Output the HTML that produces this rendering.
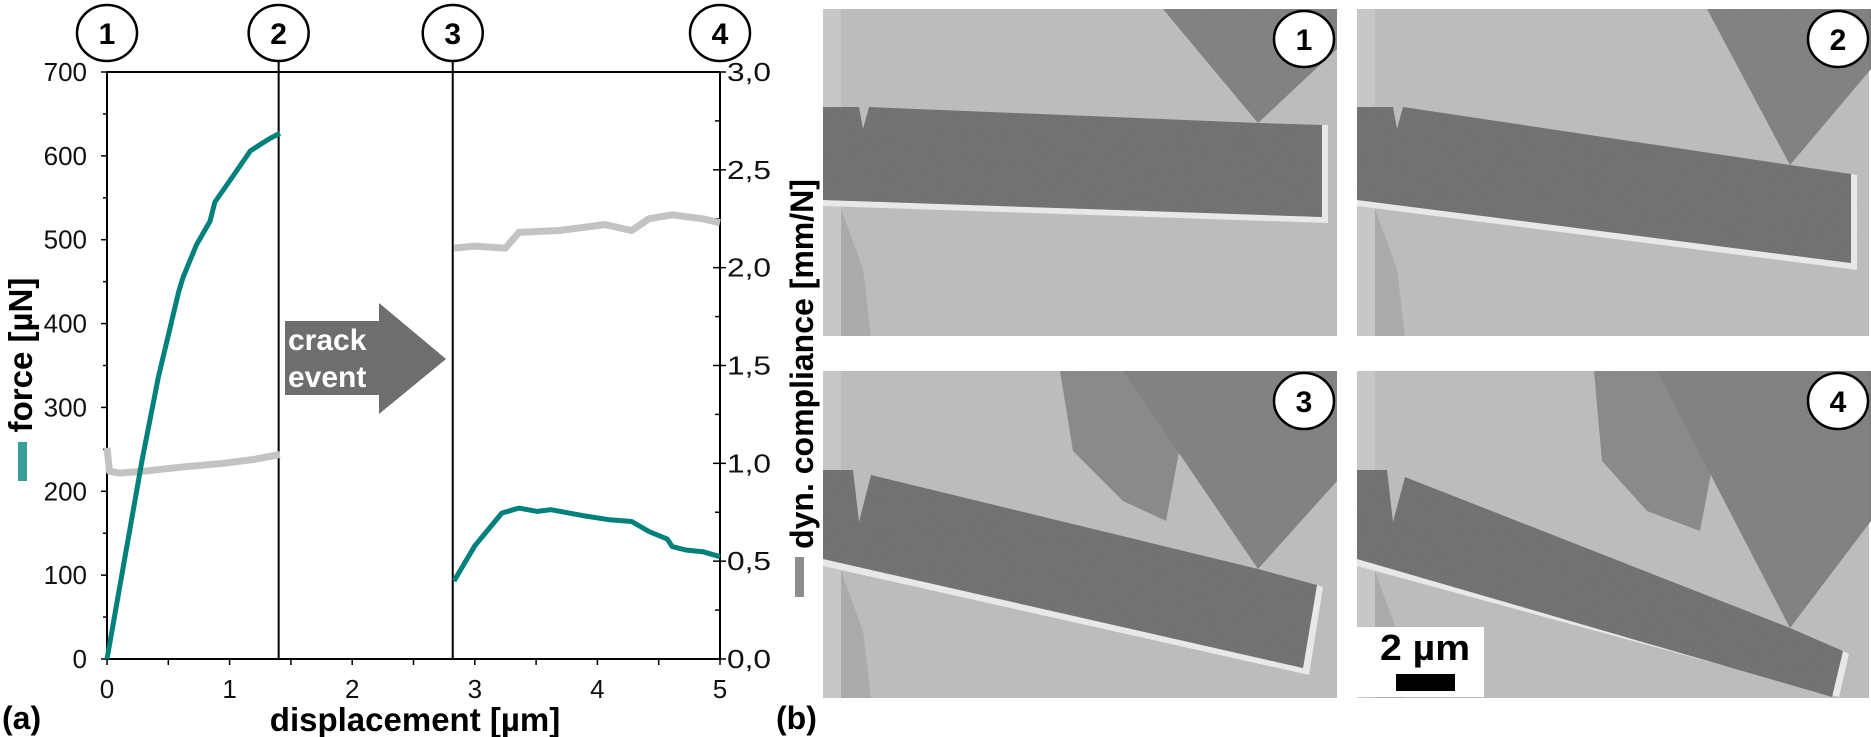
<!DOCTYPE html>
<html><head><meta charset="utf-8"><style>
html,body{margin:0;padding:0;background:#fff;}
svg{display:block;font-family:"Liberation Sans",sans-serif;}
</style></head><body>
<svg id="fig" width="1871" height="737" viewBox="0 0 1871 737">
<defs>
<filter id="noise" x="0" y="0" width="100%" height="100%"><feTurbulence type="fractalNoise" baseFrequency="0.9" numOctaves="1" seed="3"/><feColorMatrix type="matrix" values="0 0 0 0 0.5  0 0 0 0 0.5  0 0 0 0 0.5  0 0 0 0.18 0"/><feComposite in2="SourceGraphic" operator="in"/></filter>
</defs>
<g id="chart"></g>
<g id="panels"></g>
</svg>
<script>
// ---- chart data ----
const forceX1 = [0, 0.285, 0.42, 0.585, 0.62, 0.73, 0.84, 0.88, 1.0, 1.17, 1.32, 1.41];
const forceY1 = [0, 236, 337, 438, 455, 494, 522, 545, 570, 606, 620, 627];
const forceX2 = [2.83, 3.0, 3.22, 3.36, 3.51, 3.62, 3.88, 4.1, 4.28, 4.42, 4.57, 4.61, 4.72, 4.86, 5.0];
const forceY2 = [93, 135, 174, 180, 176, 178, 171, 166, 164, 152, 143, 134, 130, 128, 122];
const compX1 = [0, 0.02, 0.1, 0.3, 0.6, 0.95, 1.2, 1.41];
const compY1 = [1.08, 0.96, 0.95, 0.96, 0.98, 1.0, 1.02, 1.045];
const compX2 = [2.83, 3.0, 3.25, 3.36, 3.69, 4.06, 4.28, 4.42, 4.61, 4.86, 5.0];
const compY2 = [2.10, 2.11, 2.10, 2.18, 2.19, 2.22, 2.19, 2.25, 2.27, 2.25, 2.23];
const xTicks = [0, 1, 2, 3, 4, 5];
const yTicks = [0, 100, 200, 300, 400, 500, 600, 700];
const y2Ticks = ["0,0","0,5","1,0","1,5","2,0","2,5","3,0"];
const markerX = [0, 1.4, 2.82, 5];
const markerLabels = ["1","2","3","4"];

const NS = "http://www.w3.org/2000/svg";
const X0 = 107, XS = 122.6, Y0 = 659, YS = 587 / 700, Y2S = 587 / 3;
const sx = v => X0 + v * XS;
const sy = v => Y0 - v * YS;
const sy2 = v => Y0 - v * Y2S;
function mk(parent, tag, attrs, text) {
  const e = document.createElementNS(NS, tag);
  for (const k in attrs) e.setAttribute(k, attrs[k]);
  if (text !== undefined) e.textContent = text;
  parent.appendChild(e);
  return e;
}
const chart = document.getElementById('chart');

let e;
e = mk(chart, 'line', {x1: X0, y1: 72, x2: sx(5), y2: 72, stroke: '#000', 'stroke-width': 2});


e = mk(chart, 'line', {x1: X0, y1: 72, x2: X0, y2: Y0, stroke: '#000', 'stroke-width': 2});


e = mk(chart, 'line', {x1: sx(5), y1: 72, x2: sx(5), y2: Y0, stroke: '#000', 'stroke-width': 2});


e = mk(chart, 'line', {x1: X0, y1: Y0, x2: sx(5), y2: Y0, stroke: '#000', 'stroke-width': 2});



for (let v = 0; v <= 700; v += 50) {
  const major = v % 100 === 0;
  e = mk(chart, 'line', {x1: X0 - (major ? 6 : 4), y1: sy(v), x2: X0, y2: sy(v), stroke: '#000', 'stroke-width': 1.5});
  
  
}
yTicks.forEach(v => {
  e = mk(chart, 'text', {x: 87, y: sy(v) + 9, 'text-anchor': 'end', 'font-size': 26, fill: '#111'}, String(v));
  
  
});
for (let v = 0; v <= 5; v += 0.5) {
  e = mk(chart, 'line', {x1: sx(v), y1: Y0, x2: sx(v), y2: Y0 + 6, stroke: '#000', 'stroke-width': 1.5});
  
  
}
xTicks.forEach(v => {
  e = mk(chart, 'text', {x: sx(v), y: 698, 'text-anchor': 'middle', 'font-size': 26, fill: '#111'}, String(v));
  
  
});
for (let i = 0; i <= 12; i++) {
  const v = i * 0.25;
  const major = i % 2 === 0;
  e = mk(chart, 'line', {x1: sx(5) - (major ? 7 : 5), y1: sy2(v), x2: sx(5) + (major ? 6 : 0), y2: sy2(v), stroke: '#000', 'stroke-width': 1.5});
  
  
}
y2Ticks.forEach((t, i) => {
  e = mk(chart, 'text', {x: 727, y: sy2(i * 0.5) + 9, 'text-anchor': 'start', 'font-size': 26, fill: '#111', 'textLength': 44, 'lengthAdjust': 'spacingAndGlyphs'}, t);
  
  
});

markerX.forEach((v, i) => {
  if (i === 1 || i === 2) {
    e = mk(chart, 'line', {x1: sx(v), y1: 62, x2: sx(v), y2: Y0, stroke: '#000', 'stroke-width': 2});
    
    
  }
  e = mk(chart, 'ellipse', {cx: sx(v), cy: 33, rx: 30, ry: 28, fill: '#fff', stroke: '#000', 'stroke-width': 2.5});
  
  
  e = mk(chart, 'text', {x: sx(v), y: 44, 'text-anchor': 'middle', 'font-size': 30, 'font-weight': 'bold'}, markerLabels[i]);
  
  
});

function path(xs, ys, scaleY) {
  return xs.map((x, i) => (i ? 'L' : 'M') + sx(x).toFixed(1) + ',' + scaleY(ys[i]).toFixed(1)).join(' ');
}
e = mk(chart, 'path', {d: path(compX1, compY1, sy2), fill: 'none', stroke: '#c3c3c3', 'stroke-width': 7, 'stroke-linejoin': 'round'});


e = mk(chart, 'path', {d: path(compX2, compY2, sy2), fill: 'none', stroke: '#c3c3c3', 'stroke-width': 7, 'stroke-linejoin': 'round'});


e = mk(chart, 'path', {d: path(forceX1, forceY1, sy), fill: 'none', stroke: '#00817b', 'stroke-width': 5, 'stroke-linejoin': 'round'});


e = mk(chart, 'path', {d: path(forceX2, forceY2, sy), fill: 'none', stroke: '#00817b', 'stroke-width': 5, 'stroke-linejoin': 'round'});



e = mk(chart, 'polygon', {points: '285,321 379,321 379,303 446,359 379,414 379,395 285,395', fill: '#6e6e6e'});


e = mk(chart, 'text', {x: 288, y: 350, 'font-size': 30, 'font-weight': 'bold', fill: '#fff'}, 'crack');


e = mk(chart, 'text', {x: 288, y: 387, 'font-size': 30, 'font-weight': 'bold', fill: '#fff'}, 'event');



e = mk(chart, 'text', {x: 415, y: 731, 'text-anchor': 'middle', 'font-size': 33, 'font-weight': 'bold'}, 'displacement [µm]');


e = mk(chart, 'text', {x: 0, y: 0, 'text-anchor': 'middle', 'font-size': 33, 'font-weight': 'bold', transform: 'translate(32,355) rotate(-90)'}, 'force [µN]');


e = mk(chart, 'rect', {x: 18, y: 442, width: 9, height: 39, fill: '#3a9e98'});


e = mk(chart, 'text', {x: 0, y: 0, 'text-anchor': 'middle', 'font-size': 32, 'font-weight': 'bold', transform: 'translate(813,364) rotate(-90)'}, 'dyn. compliance [mm/N]');


e = mk(chart, 'rect', {x: 795, y: 557, width: 9, height: 40, fill: '#8c8c8c'});


e = mk(chart, 'text', {x: 2, y: 729, 'font-size': 32, 'font-weight': 'bold'}, '(a)');


e = mk(chart, 'text', {x: 776, y: 729, 'font-size': 32, 'font-weight': 'bold'}, '(b)');



const panels = document.getElementById('panels');
const panelDefs = [
  {x: 823, y: 9, label: '1', beam: '0,98 36,98 40,120 46,98 435,114 499,116 499,208 0,191', rim: '0,191 499,208 499,116 505,116 505,214 0,197', tri: '340,0 514,0 514,40 435,114', blob: null},
  {x: 1357, y: 9, label: '2', beam: '0,98 36,98 40,120 46,98 433,156 494,165 494,254 0,191', rim: '0,191 494,254 494,165 500,166 500,261 0,197', tri: '350,0 514,0 514,60 433,156', blob: null},
  {x: 823, y: 371, label: '3', beam: '0,99 30,99 36,151 48,104 435,198 494,214 480,297 0,188', rim: '0,188 480,297 494,214 500,216 486,304 0,195', tri: '300,0 514,0 514,110 435,198', blob: '237,0 300,0 360,60 343,150 300,130 250,80'},
  {x: 1357, y: 371, label: '4', beam: '0,99 30,99 36,151 48,106 433,257 486,280 475,326 0,188', rim: '0,188 475,326 486,280 492,283 482,326 0,195', tri: '300,0 514,0 514,150 433,257', blob: '237,0 300,0 360,70 343,160 290,140 245,90'}
];
panelDefs.forEach((p, i) => {
  const g = mk(panels, 'g', {transform: `translate(${p.x},${p.y})`});
  
  
  const w = i % 2 === 0 ? 514 : 512, h = 327;
  mk(g, 'rect', {x: 0, y: 0, width: w, height: h, fill: '#bcbcbc'});
  mk(g, 'polygon', {points: '0,200 18,200 40,260 48,327 0,327', fill: '#a9a9a9'});
  mk(g, 'rect', {x: 0, y: 0, width: 18, height: 327, fill: '#c8c8c8'});
  if (p.blob) mk(g, 'polygon', {points: p.blob, fill: '#858585'});
  mk(g, 'polygon', {points: p.tri, fill: '#7c7c7c'});
  mk(g, 'polygon', {points: p.rim, fill: '#ececec'});
  mk(g, 'polygon', {points: p.beam, fill: '#6b6b6b'});
  mk(g, 'rect', {x: 0, y: 0, width: w, height: h, fill: '#fff', filter: 'url(#noise)'});
  let c = mk(g, 'ellipse', {cx: 481, cy: 30, rx: 30, ry: 28, fill: '#fff', stroke: '#000', 'stroke-width': 2.5});
  
  
  c = mk(g, 'text', {x: 481, y: 41, 'text-anchor': 'middle', 'font-size': 30, 'font-weight': 'bold'}, p.label);
  
  
});
e = mk(panels, 'rect', {x: 1357, y: 627, width: 127, height: 70, fill: '#fff'});


e = mk(panels, 'text', {x: 1425, y: 660, 'text-anchor': 'middle', 'font-size': 36, 'font-weight': 'bold', textLength: 90, lengthAdjust: 'spacingAndGlyphs'}, '2 µm');


e = mk(panels, 'rect', {x: 1396, y: 674, width: 59, height: 17, fill: '#000'});


</script>
</body></html>
